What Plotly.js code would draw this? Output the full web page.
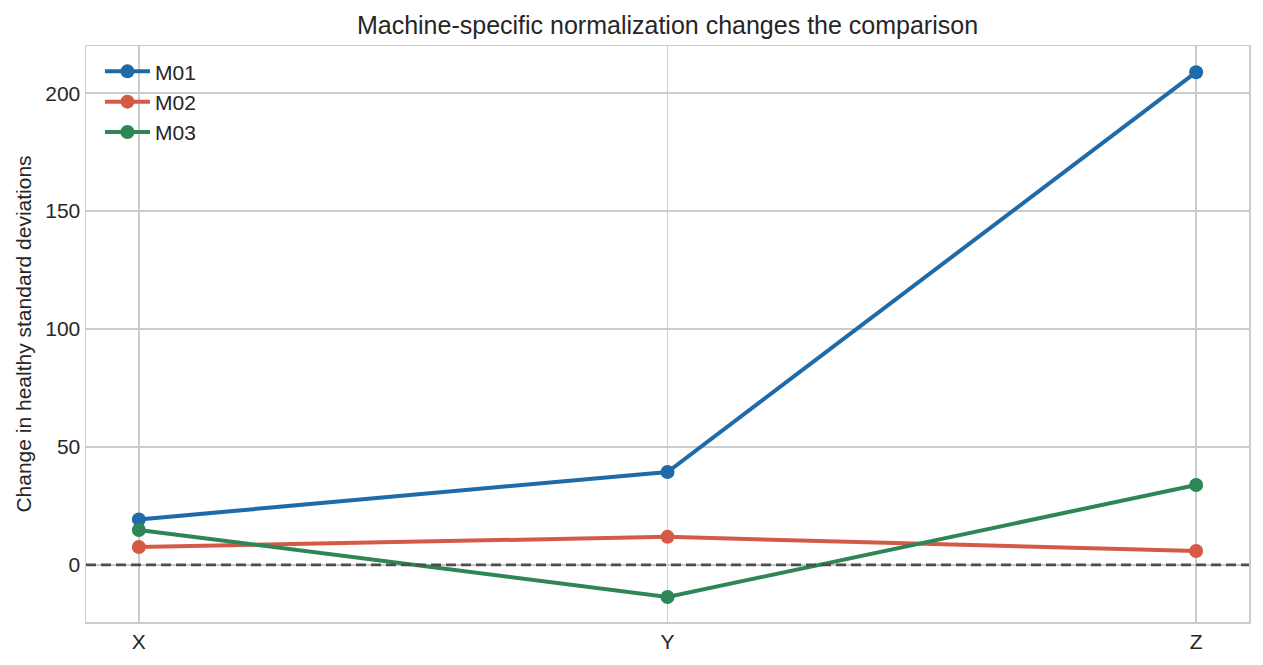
<!DOCTYPE html>
<html>
<head>
<meta charset="utf-8">
<script src="https://cdn.plot.ly/plotly-3.0.1.min.js"></script>
<style>
  html, body { margin: 0; padding: 0; background: #fff; }
  #chart { width: 1263px; height: 665px; }
</style>
</head>
<body>
<div id="chart"></div>
<script>
// Data
const categories = ['X', 'Y', 'Z'];
const seriesNames = ['M01', 'M02', 'M03'];
const m01 = [19.3, 39.4, 208.9];
const m02 = [7.6, 11.9, 5.9];
const m03 = [14.8, -13.6, 33.9];
const yTicks = [0, 50, 100, 150, 200];

const COLORS = {
  M01: '#1f6aa8',
  M02: '#d45a45',
  M03: '#2e8555',
  grid: '#cccccc',
  text: '#262626',
  zero: '#4d4d4d',
};

const FONT = 'Arial, "Liberation Sans", "DejaVu Sans", sans-serif';

function lineTrace(name, values) {
  return {
    x: [0, 1, 2],
    y: values,
    type: 'scatter',
    mode: 'lines+markers',
    name: name,
    line: { color: COLORS[name], width: 4 },
    marker: { color: COLORS[name], size: 14 },
  };
}

const traces = [
  lineTrace(seriesNames[0], m01),
  lineTrace(seriesNames[1], m02),
  lineTrace(seriesNames[2], m03),
];

const layout = {
  width: 1263,
  height: 665,
  paper_bgcolor: '#ffffff',
  plot_bgcolor: '#ffffff',
  font: { family: FONT, color: COLORS.text, size: 21 },
  margin: { l: 86, r: 14, t: 46, b: 43 },
  title: {
    text: 'Machine-specific normalization changes the comparison',
    font: { size: 25, color: COLORS.text },
    x: 0.5285, xanchor: 'center', y: 0.962, yanchor: 'middle',
  },
  xaxis: {
    range: [-0.1, 2.1],
    tickvals: [0, 1, 2],
    ticktext: categories,
    showgrid: true,
    gridcolor: COLORS.grid,
    gridwidth: 1.5,
    zeroline: false,
    showline: true,
    linecolor: COLORS.grid,
    linewidth: 1.5,
    mirror: true,
    ticks: '',
    tickfont: { size: 21, color: COLORS.text },
  },
  yaxis: {
    range: [-24.2, 220],
    tickvals: yTicks,
    showgrid: true,
    gridcolor: COLORS.grid,
    gridwidth: 1.5,
    zeroline: false,
    showline: true,
    linecolor: COLORS.grid,
    linewidth: 1.5,
    mirror: true,
    ticks: '',
    tickfont: { size: 21, color: COLORS.text },
    title: { text: 'Change in healthy standard deviations', font: { size: 21, color: COLORS.text }, standoff: 8 },
  },
  shapes: [{
    type: 'line', xref: 'paper', x0: 0, x1: 1, y0: 0, y1: 0,
    line: { color: COLORS.zero, width: 2.8, dash: '10px,5px' },
  }],
  legend: {
    x: 0.012, y: 0.991, xanchor: 'left', yanchor: 'top',
    bgcolor: 'rgba(0,0,0,0)',
    font: { size: 21, color: COLORS.text },
    itemwidth: 45,
    tracegroupgap: 0,
  },
  showlegend: true,
};

Plotly.newPlot('chart', traces, layout, { displayModeBar: false, staticPlot: true });
</script>
</body>
</html>
